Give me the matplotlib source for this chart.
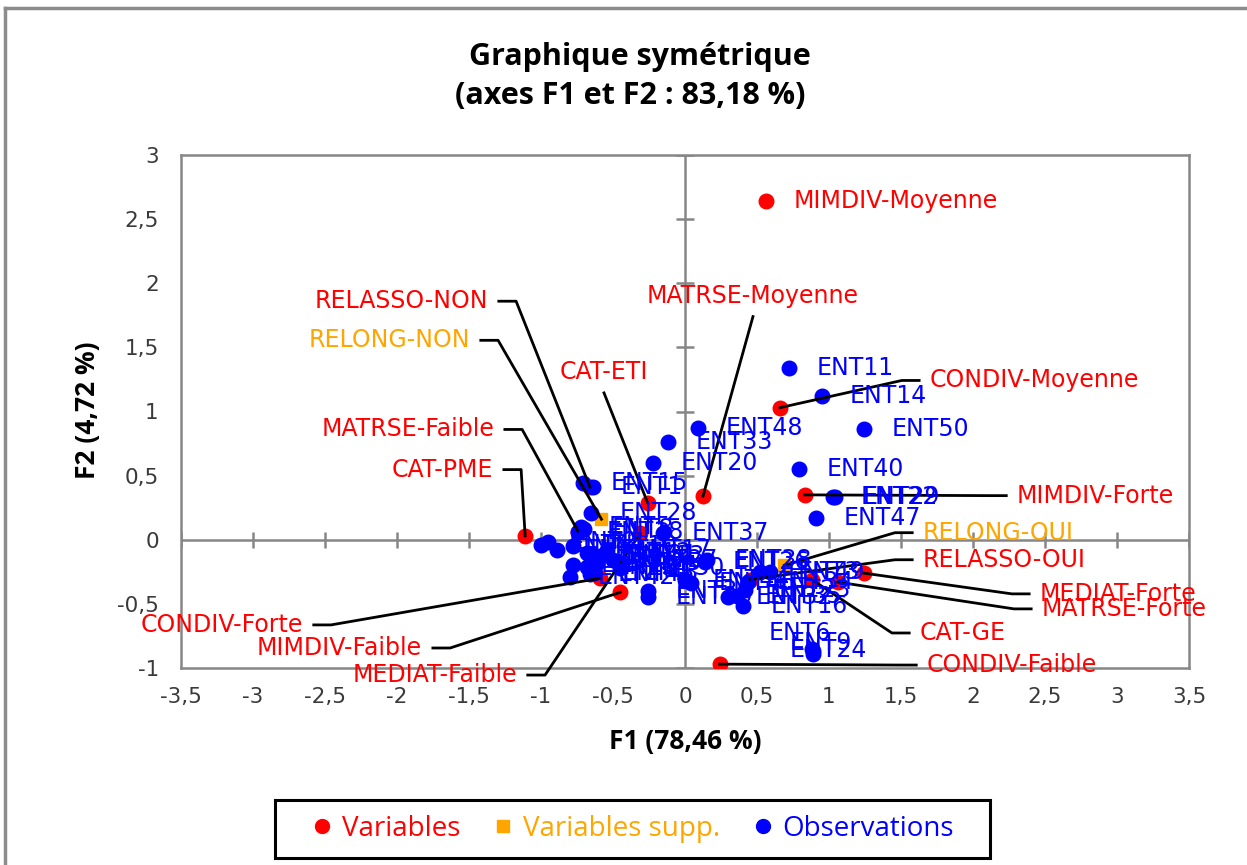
import matplotlib
matplotlib.use("Agg")
import matplotlib.pyplot as plt   # noqa: E402
from matplotlib.lines import Line2D   # noqa: E402
from matplotlib.patches import Rectangle   # noqa: E402

# --- data ----------------------------------------------------------------
VAR_NAMES = ["CAT-PME", "CAT-ETI", "CAT-GE",
             "MIMDIV-Faible", "MIMDIV-Moyenne", "MIMDIV-Forte",
             "MATRSE-Faible", "MATRSE-Moyenne", "MATRSE-Forte",
             "CONDIV-Faible", "CONDIV-Moyenne", "CONDIV-Forte",
             "MEDIAT-Faible", "MEDIAT-Forte",
             "RELASSO-NON", "RELASSO-OUI"]
VAR_F1 = [-1.11, -0.26, 0.88, -0.45, 0.56, 0.83, -0.74, 0.125, 1.06,
          0.24, 0.66, -0.59, -0.31, 1.24, -0.66, 0.45]
VAR_F2 = [0.03, 0.29, -0.31, -0.41, 2.64, 0.35, 0.06, 0.34, -0.33,
          -0.97, 1.03, -0.30, 0.05, -0.26, 0.41, -0.31]

SUP_NAMES = ["RELONG-NON", "RELONG-OUI"]
SUP_F1 = [-0.58, 0.69]
SUP_F2 = [0.16, -0.20]

OBS_NAMES = [f"ENT{i}" for i in range(1, 51)]
OBS_F1 = [-0.64, -0.95, 0.59, -1.00, -0.72, 0.88, -0.89, -0.70, 0.89, -0.78,
          0.72, -0.68, -0.59, 0.95, -0.71, 0.40, -0.54, -0.74, -0.78, -0.22,
          -0.68, 1.03, 0.42, 0.89, -0.61, 0.14, -0.50, -0.65, 1.04, -0.45,
          -0.64, 0.30, -0.12, 0.44, 0.36, -0.26, -0.15, 0.15, -0.26, 0.79,
          -0.66, -0.80, -0.63, 0.00, -0.66, 0.04, 0.91, 0.09, 0.52, 1.24]
OBS_F2 = [0.41, -0.02, -0.25, -0.04, 0.10, -0.85, -0.08, 0.08, -0.87, -0.05,
          1.34, -0.10, -0.13, 1.12, 0.44, -0.52, -0.08, 0.06, -0.20, 0.60,
          -0.21, 0.33, -0.39, -0.89, -0.18, -0.17, -0.16, 0.21, 0.33, -0.22,
          -0.12, -0.45, 0.76, -0.33, -0.44, -0.40, 0.05, -0.16, -0.45, 0.55,
          -0.12, -0.29, -0.26, -0.31, -0.27, -0.34, 0.17, 0.87, -0.25, 0.86]

X_TICKS = [-3.5, -3, -2.5, -2, -1.5, -1, -0.5, 0, 0.5, 1, 1.5, 2, 2.5, 3, 3.5]
X_TICKLABELS = ["-3,5", "-3", "-2,5", "-2", "-1,5", "-1", "-0,5", "0",
                "0,5", "1", "1,5", "2", "2,5", "3", "3,5"]
Y_TICKS = [-1, -0.5, 0, 0.5, 1, 1.5, 2, 2.5, 3]
Y_TICKLABELS = ["-1", "-0,5", "0", "0,5", "1", "1,5", "2", "2,5", "3"]

# --- layout: where the moved labels sit (L = text left of stub, R = right, U = above)
LABEL_POS = {
    "RELASSO-NON": (-1.368, 1.86, "L"), "RELONG-NON": (-1.493, 1.555, "L"),
    "MATRSE-Faible": (-1.326, 0.86, "L"), "CAT-PME": (-1.333, 0.547, "L"),
    "CONDIV-Forte": (-2.653, -0.664, "L"), "MIMDIV-Faible": (-1.826, -0.844, "L"),
    "MEDIAT-Faible": (-1.167, -1.055, "L"),
    "CAT-ETI": (-0.5625, 1.305, "U"), "MATRSE-Moyenne": (0.472, 1.90, "U"),
    "CONDIV-Moyenne": (1.701, 1.242, "R"), "MIMDIV-Forte": (2.306, 0.344, "R"),
    "RELONG-OUI": (1.653, 0.055, "R"), "RELASSO-OUI": (1.653, -0.156, "R"),
    "MEDIAT-Forte": (2.465, -0.422, "R"), "MATRSE-Forte": (2.479, -0.539, "R"),
    "CAT-GE": (1.632, -0.727, "R"), "CONDIV-Faible": (1.681, -0.977, "R"),
}
OBS_OFFSETS = {"ENT6": (-31, 11), "ENT9": (-17, 6), "ENT24": (-17, 3)}

RED, ORANGE, BLUE, GREY = "#FF0000", "#FFA500", "#0000FF", "#868686"
LBL_FS = 17
TITLE_FONT = ["Open Sans", "DejaVu Sans"]

plt.rcParams["font.family"] = ["DejaVu Sans"]

fig = plt.figure(figsize=(12.47, 8.65), dpi=100)
ax = fig.add_axes([181 / 1247, 1 - 668 / 865, 1008 / 1247, 513 / 865])
ax.set_xlim(-3.5, 3.5)
ax.set_ylim(-1, 3)

for sp in ax.spines.values():
    sp.set_color(GREY); sp.set_linewidth(1.8)
ax.set_xticks(X_TICKS, X_TICKLABELS)
ax.set_yticks(Y_TICKS, Y_TICKLABELS)
ax.tick_params(length=0, labelsize=15.5, labelcolor="#3a3a3a", pad=14)
ax.tick_params(axis="y", pad=16)

# axis lines through origin with crossing tick marks
ax.axhline(0, color=GREY, lw=1.8, zorder=1)
ax.axvline(0, color=GREY, lw=1.8, zorder=1)
ax.plot(X_TICKS, [0] * len(X_TICKS), ls="none", marker="|", ms=11, mew=1.8, color=GREY, zorder=1)
ax.plot([0] * len(Y_TICKS), Y_TICKS, ls="none", marker="_", ms=13, mew=1.8, color=GREY, zorder=1)

ax.scatter(VAR_F1, VAR_F2, s=110, color=RED, zorder=3)
ax.scatter(SUP_F1, SUP_F2, s=80, marker="s", color=ORANGE, zorder=3.5)
ax.scatter(OBS_F1, OBS_F2, s=110, color=BLUE, zorder=4)


def put_label(name, px, py, color):
    if name in LABEL_POS:
        lx, ly, side = LABEL_POS[name]
        if side == "U":
            ax.plot([lx, px], [ly - 0.16, py], color="k", lw=2, zorder=5, clip_on=False)
            ax.text(lx, ly, name, color=color, fontsize=LBL_FS, ha="center", va="center",
                    zorder=6, clip_on=False)
        else:
            s = 1 if side == "L" else -1
            x0 = lx + s * 0.075
            x1 = x0 + s * 0.12
            ax.plot([x0, x1, px], [ly, ly, py], color="k", lw=2, zorder=5, clip_on=False)
            ax.text(lx, ly, name, color=color, fontsize=LBL_FS, va="center",
                    ha="right" if side == "L" else "left", zorder=6, clip_on=False)
    else:
        dx, dy = OBS_OFFSETS.get(name, (20, 0))
        ax.annotate(name, (px, py), xytext=(dx, dy), textcoords="offset points",
                    color=color, fontsize=LBL_FS, va="center", ha="left",
                    zorder=6, annotation_clip=False)


for n, x, y in zip(VAR_NAMES, VAR_F1, VAR_F2):
    put_label(n, x, y, RED)
for n, x, y in zip(SUP_NAMES, SUP_F1, SUP_F2):
    put_label(n, x, y, ORANGE)
for n, x, y in zip(OBS_NAMES, OBS_F1, OBS_F2):
    put_label(n, x, y, BLUE)

# titles
fig.text(640 / 1247, 1 - 57 / 865, "Graphique symétrique", family=TITLE_FONT,
         weight="bold", fontsize=22, ha="center", va="center")
fig.text(630 / 1247, 1 - 96 / 865, "(axes F1 et F2 : 83,18 %)", family=TITLE_FONT,
         weight="bold", fontsize=22, ha="center", va="center")
fig.text(685 / 1247, 1 - 742 / 865, "F1 (78,46 %)", family=TITLE_FONT,
         weight="bold", fontsize=19, ha="center", va="center")
fig.text(88 / 1247, 1 - 410 / 865, "F2 (4,72 %)", family=TITLE_FONT,
         weight="bold", fontsize=19, ha="center", va="center", rotation=90)

# outer chart border (only top and left visible in the crop)
fig.add_artist(Line2D([5 / 1247, 1.0], [1 - 8 / 865] * 2, transform=fig.transFigure,
                      color="#8c8c8c", lw=2.5))
fig.add_artist(Line2D([5 / 1247] * 2, [0, 1 - 8 / 865], transform=fig.transFigure,
                      color="#8c8c8c", lw=2.5))

# legend: frame drawn separately so the entries can sit inset like the original
fig.add_artist(Rectangle((275 / 1247, 1 - 858 / 865), 715 / 1247, 58 / 865,
                         transform=fig.transFigure, fill=False, edgecolor="black", lw=2.2))
handles = [
    Line2D([], [], ls="none", marker="o", ms=10, color=RED),
    Line2D([], [], ls="none", marker="s", ms=9, color=ORANGE),
    Line2D([], [], ls="none", marker="o", ms=10, color=BLUE),
]
leg = fig.legend(handles, ["Variables", "Variables supp.", "Observations"],
                 loc="center", bbox_to_anchor=(300 / 1247, 1 - 858 / 865, 665 / 1247, 58 / 865),
                 mode="expand", ncol=3,
                 prop={"family": TITLE_FONT, "size": 20},
                 frameon=False, handlelength=0.8,
                 handletextpad=0.3, columnspacing=1.0, borderpad=0.4, borderaxespad=0)
for t, c in zip(leg.get_texts(), [RED, ORANGE, BLUE]):
    t.set_color(c)

fig.savefig("out.png", dpi=100)
